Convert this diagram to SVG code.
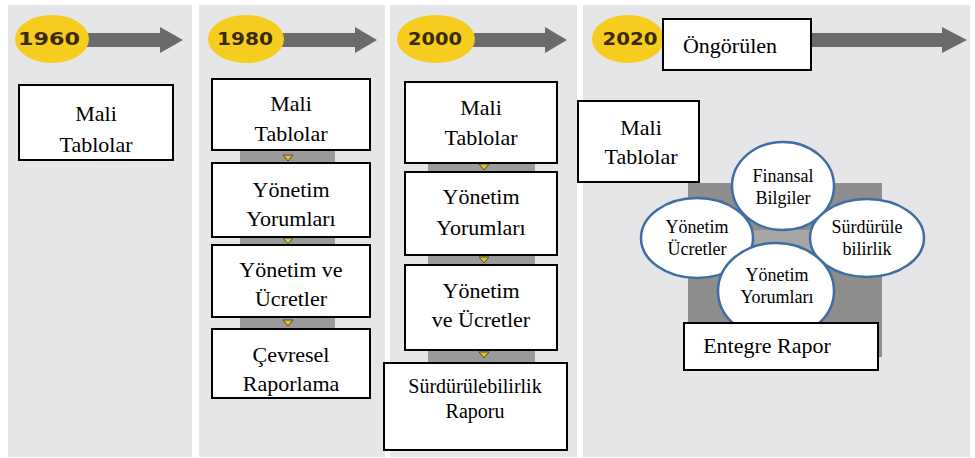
<svg xmlns="http://www.w3.org/2000/svg" width="975" height="458" viewBox="0 0 975 458">
<style>
.panel{fill:#e6e6e8}
.yr{fill:#f6cc1e}
.yt{font-family:"DejaVu Sans",sans-serif;font-weight:bold;font-size:17px;fill:#3a2b05;text-anchor:middle}
.arr{fill:#6b6b6b}
.box{fill:#ffffff;stroke:#000000;stroke-width:2}
.t{font-family:"Liberation Serif",serif;font-size:22px;fill:#000;text-anchor:middle}
.ts{font-family:"Liberation Serif",serif;font-size:20px;fill:#000;text-anchor:middle}
.tc{font-family:"Liberation Serif",serif;font-size:18px;fill:#000;text-anchor:middle}
.band{fill:#9a9a9a}
.tri{fill:#e8c21a;stroke:#4a4a3a;stroke-width:1}
.circ{fill:#ffffff;stroke:#3f6ea4;stroke-width:2.5}
</style>
<rect width="975" height="458" fill="#ffffff"/>
<g id="panels">
<rect class="panel" x="8" y="5" width="184" height="452"/>
<rect class="panel" x="199" y="5" width="186" height="452"/>
<rect class="panel" x="390" y="5" width="187" height="452"/>
<rect class="panel" x="583" y="5" width="387" height="452"/>
</g>
<g id="timeline">
<g id="t1960">
<polygon class="arr" points="85,33 160,33 160,27 183,40 160,53 160,47 85,47"/>
<ellipse class="yr" cx="52" cy="39" rx="37" ry="24"/>
<text class="yt" x="49" y="45" textLength="62" lengthAdjust="spacingAndGlyphs">1960</text>
</g>
<g id="t1980">
<polygon class="arr" points="280,33 355,33 355,27 377,40 355,53 355,47 280,47"/>
<ellipse class="yr" cx="246" cy="39" rx="38" ry="24"/>
<text class="yt" x="245" y="45" textLength="56" lengthAdjust="spacingAndGlyphs">1980</text>
</g>
<g id="t2000">
<polygon class="arr" points="470,33 545,33 545,27 567,40 545,53 545,47 470,47"/>
<ellipse class="yr" cx="436" cy="39" rx="39" ry="24"/>
<text class="yt" x="435" y="45" textLength="54" lengthAdjust="spacingAndGlyphs">2000</text>
</g>
<g id="t2020">
<polygon class="arr" points="800,33 942,33 942,27 967,40 942,53 942,47 800,47"/>
<ellipse class="yr" cx="628" cy="39" rx="36" ry="24"/>
<text class="yt" x="630" y="45" textLength="55" lengthAdjust="spacingAndGlyphs">2020</text>
</g>
</g>
<g id="connectors">
<rect class="band" x="240" y="150" width="95" height="13"/>
<polygon class="tri" points="283,155 293,155 288,161"/>
<rect class="band" x="240" y="237" width="95" height="8"/>
<polygon class="tri" points="283,238 293,238 288,244"/>
<rect class="band" x="240" y="317" width="95" height="12"/>
<polygon class="tri" points="283,320 293,320 288,326"/>
<rect class="band" x="428" y="163" width="107" height="9"/>
<polygon class="tri" points="479,164 489,164 484,170"/>
<rect class="band" x="428" y="255" width="107" height="10"/>
<polygon class="tri" points="479,257 489,257 484,263"/>
<rect class="band" x="428" y="350" width="107" height="13"/>
<polygon class="tri" points="479,352 489,352 484,358"/>
</g>
<g id="p1-mali">
<rect class="box" x="19" y="85" width="154" height="75"/>
<text class="t" x="96" y="121">Mali</text>
<text class="t" x="96" y="152">Tablolar</text>
</g>
<g id="p2-mali">
<rect class="box" x="212" y="79" width="158" height="71"/>
<text class="t" x="291" y="111">Mali</text>
<text class="t" x="291" y="141">Tablolar</text>
</g>
<g id="p2-yorum">
<rect class="box" x="212" y="163" width="158" height="74"/>
<text class="t" x="291" y="197">Yönetim</text>
<text class="t" x="291" y="226">Yorumları</text>
</g>
<g id="p2-ucret">
<rect class="box" x="212" y="245" width="158" height="72"/>
<text class="t" x="291" y="277">Yönetim ve</text>
<text class="t" x="291" y="306">Ücretler</text>
</g>
<g id="p2-cevre">
<rect class="box" x="212" y="329" width="158" height="69"/>
<text class="t" x="291" y="362">Çevresel</text>
<text class="t" x="291" y="391">Raporlama</text>
</g>
<g id="p3-mali">
<rect class="box" x="405" y="82" width="152" height="81"/>
<text class="t" x="481" y="115">Mali</text>
<text class="t" x="481" y="145">Tablolar</text>
</g>
<g id="p3-yorum">
<rect class="box" x="405" y="172" width="152" height="83"/>
<text class="t" x="481" y="204">Yönetim</text>
<text class="t" x="481" y="235">Yorumları</text>
</g>
<g id="p3-ucret">
<rect class="box" x="405" y="265" width="152" height="85"/>
<text class="t" x="481" y="298">Yönetim</text>
<text class="t" x="481" y="327">ve Ücretler</text>
</g>
<g id="p3-surdur">
<rect class="box" x="384" y="363" width="183" height="87"/>
<text class="ts" x="475" y="393">Sürdürülebilirlik</text>
<text class="ts" x="475" y="418">Raporu</text>
</g>
<g id="p4-ongor">
<rect class="box" x="663" y="19" width="148" height="51"/>
<text class="t" x="730" y="53">Öngörülen</text>
</g>
<g id="p4-mali">
<rect class="box" x="578" y="101" width="121" height="81"/>
<text class="t" x="641" y="135">Mali</text>
<text class="t" x="641" y="164">Tablolar</text>
</g>
<g id="p4-square">
<rect x="688" y="183" width="194" height="174" fill="#8e8e8e"/>
<rect x="740" y="230" width="90" height="70" fill="#a6a6a6"/>
</g>
<g id="c-finansal">
<ellipse class="circ" cx="783" cy="186" rx="51" ry="44"/>
<text class="tc" x="783" y="182">Finansal</text>
<text class="tc" x="783" y="204">Bilgiler</text>
</g>
<g id="c-ucret">
<ellipse class="circ" cx="697" cy="238" rx="56" ry="40"/>
<text class="tc" x="697" y="233">Yönetim</text>
<text class="tc" x="697" y="255">Ücretler</text>
</g>
<g id="c-surdur">
<ellipse class="circ" cx="867" cy="238" rx="57" ry="39"/>
<text class="tc" x="867" y="233">Sürdürüle</text>
<text class="tc" x="867" y="255">bilirlik</text>
</g>
<g id="c-yorum">
<ellipse class="circ" cx="776" cy="291" rx="58" ry="48"/>
<text class="tc" x="777" y="281">Yönetim</text>
<text class="tc" x="777" y="303">Yorumları</text>
</g>
<g id="p4-entegre">
<rect class="box" x="684" y="323" width="194" height="47"/>
<text class="t" x="767" y="353">Entegre Rapor</text>
</g>
</svg>
